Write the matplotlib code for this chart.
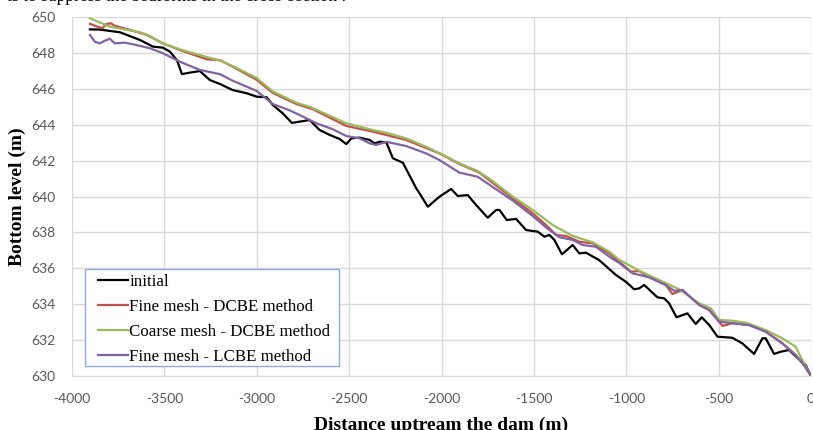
import matplotlib
matplotlib.use("Agg")
import matplotlib.pyplot as plt
from matplotlib.patches import Rectangle

# ---------------- data ----------------
x_initial = [-3903, -3849, -3741, -3632, -3562, -3508, -3470, -3432, -3405, -3362, -3308, -3254,
             -3200, -3130, -3054, -3000, -2946, -2913, -2859, -2810, -2768, -2714, -2659, -2605,
             -2551, -2515, -2488, -2443, -2389, -2362, -2335, -2299, -2263, -2209, -2137, -2119,
             -2074, -2011, -1948, -1912, -1858, -1813, -1750, -1704, -1686, -1647, -1596, -1542,
             -1479, -1443, -1416, -1389, -1348, -1290, -1254, -1218, -1146, -1056, -1002, -957,
             -930, -903, -831, -795, -768, -728, -669, -624, -591, -551, -506, -426, -372, -308,
             -263, -245, -200, -164, -119, -65, -29, 0]
y_initial = [649.31, 649.30, 649.15, 648.72, 648.35, 648.29, 648.07, 647.60, 646.82, 646.90, 646.99, 646.49,
             646.27, 645.93, 645.75, 645.56, 645.53, 645.10, 644.63, 644.10, 644.17, 644.26, 643.70, 643.43,
             643.20, 642.92, 643.24, 643.28, 643.15, 642.96, 643.05, 643.02, 642.13, 641.88, 640.46, 640.18,
             639.43, 639.99, 640.42, 640.03, 640.08, 639.53, 638.82, 639.25, 639.25, 638.69, 638.75, 638.13,
             638.04, 637.76, 637.86, 637.58, 636.78, 637.30, 636.83, 636.87, 636.45, 635.63, 635.25, 634.83,
             634.88, 635.07, 634.38, 634.33, 634.05, 633.27, 633.49, 632.90, 633.27, 632.84, 632.19, 632.13,
             631.82, 631.23, 632.10, 632.10, 631.23, 631.35, 631.45, 630.93, 630.61, 630.00]

x_fine_dcbe = [-3903, -3860, -3835, -3815, -3790, -3770, -3686, -3595, -3508, -3416, -3270, -3200,
               -3130, -3000, -2913, -2785, -2696, -2515, -2371, -2191, -2011, -1903, -1795, -1614,
               -1506, -1434, -1380, -1326, -1254, -1182, -1092, -1038, -975, -930, -876, -786,
               -750, -696, -605, -551, -479, -426, -335, -245, -155, -83, -38, 0]
y_fine_dcbe = [649.62, 649.45, 649.38, 649.60, 649.65, 649.52, 649.28, 649.00, 648.53, 648.16, 647.64, 647.60,
               647.23, 646.50, 645.77, 645.15, 644.86, 643.93, 643.61, 643.15, 642.40, 641.81, 641.33, 639.90,
               639.06, 638.41, 637.86, 637.80, 637.48, 637.39, 636.83, 636.37, 635.81, 635.85, 635.50, 635.07,
               634.57, 634.79, 633.96, 633.68, 632.79, 632.94, 632.84, 632.47, 631.82, 631.17, 630.61, 630.00]

x_coarse_dcbe = [-3903, -3795, -3632, -3578, -3508, -3416, -3308, -3200, -3130, -3000, -2913, -2785,
                 -2714, -2623, -2515, -2371, -2299, -2191, -2083, -2011, -1903, -1804, -1731, -1614,
                 -1506, -1398, -1290, -1182, -1092, -1038, -930, -822, -714, -605, -542, -497,
                 -426, -353, -245, -155, -83, -47, 0]
y_coarse_dcbe = [649.93, 649.46, 649.15, 648.94, 648.53, 648.20, 647.88, 647.57, 647.27, 646.60, 645.85, 645.22,
                 645.00, 644.58, 644.08, 643.70, 643.55, 643.24, 642.77, 642.42, 641.85, 641.42, 640.92, 639.99,
                 639.25, 638.41, 637.80, 637.45, 636.93, 636.47, 635.87, 635.35, 634.83, 634.05, 633.77, 633.12,
                 633.08, 632.97, 632.56, 632.10, 631.63, 630.89, 630.00]

x_fine_lcbe = [-3903, -3876, -3849, -3822, -3795, -3768, -3714, -3670, -3578, -3508, -3416, -3308,
               -3200, -3130, -3000, -2913, -2822, -2768, -2677, -2587, -2515, -2443, -2389, -2353,
               -2299, -2191, -2083, -2011, -1903, -1804, -1704, -1614, -1506, -1434, -1362, -1290,
               -1236, -1164, -1092, -1038, -966, -876, -786, -741, -696, -605, -551, -497,
               -426, -335, -245, -155, -83, -38, 0]
y_fine_lcbe = [649.00, 648.62, 648.53, 648.68, 648.79, 648.53, 648.57, 648.48, 648.26, 647.98, 647.51, 647.05,
               646.82, 646.45, 645.88, 645.15, 644.80, 644.54, 644.08, 643.74, 643.37, 643.24, 642.96, 642.87,
               643.05, 642.81, 642.40, 642.03, 641.33, 641.10, 640.40, 639.77, 638.91, 638.28, 637.73, 637.58,
               637.30, 637.20, 636.65, 636.30, 635.72, 635.50, 635.07, 634.75, 634.79, 633.96, 633.68, 633.03,
               632.94, 632.84, 632.47, 631.82, 631.17, 630.61, 630.00]

labels = ["initial", "Fine mesh - DCBE method", "Coarse mesh - DCBE method", "Fine mesh - LCBE method"]
colors = ["#000000", "#C0504D", "#9BBB59", "#8064A2"]

x_ticks = [-4000, -3500, -3000, -2500, -2000, -1500, -1000, -500, 0]
y_ticks = [630, 632, 634, 636, 638, 640, 642, 644, 646, 648, 650]

# ---------------- figure ----------------
W, H = 813, 430
fig = plt.figure(figsize=(W / 100, H / 100), dpi=100)
fig.patch.set_facecolor("white")

left, right, top, bottom = 72, 811, 17, 376
ax = fig.add_axes([left / W, (H - bottom) / H, (right - left) / W, (bottom - top) / H])

def ax_x(px):
    return (px - left) / (right - left)

def ax_y(py):
    return (bottom - py) / (bottom - top)

series = [(x_initial, y_initial), (x_fine_dcbe, y_fine_dcbe),
          (x_coarse_dcbe, y_coarse_dcbe), (x_fine_lcbe, y_fine_lcbe)]
for (xs, ys), lab, col in zip(series, labels, colors):
    ax.plot(xs, ys, color=col, lw=1.6, label=lab, solid_joinstyle="round")

ax.set_xlim(-4000, 0)
ax.set_ylim(630, 650)
ax.set_xticks(x_ticks)
ax.set_yticks(y_ticks)
ax.set_xticklabels([str(v) for v in x_ticks])
ax.set_yticklabels([str(v) for v in y_ticks])
ax.grid(True, color="#d9d9d9", lw=1.0)
ax.set_axisbelow(True)
for s in ax.spines.values():
    s.set_visible(False)
ax.spines["bottom"].set_visible(True)
ax.spines["bottom"].set_color("#d9d9d9")
ax.tick_params(length=0, labelsize=10, labelcolor="#595959", pad=12)
for lbl in ax.get_xticklabels() + ax.get_yticklabels():
    lbl.set_fontfamily(["Lato", "DejaVu Sans"])

ax.set_xlabel("Distance uptream the dam (m)", fontsize=14, fontweight="bold",
              fontfamily=["Liberation Serif", "DejaVu Serif"])
ax.xaxis.label.set_va("baseline")
ax.xaxis.set_label_coords(0.5, ax_y(429.5))

ax.set_ylabel("Bottom level (m)", fontsize=14, fontweight="bold",
              fontfamily=["Liberation Serif", "DejaVu Serif"])
ax.yaxis.label.set_va("center")
ax.yaxis.set_label_coords(ax_x(17.5), 0.5)

# legend box (drawn separately for exact padding) and legend content
box = Rectangle((ax_x(85), ax_y(366)), ax_x(339) - ax_x(85), ax_y(269) - ax_y(366),
                transform=ax.transAxes, facecolor="white", edgecolor="#8FAADC",
                lw=1.0, zorder=4)
ax.add_patch(box)
leg = ax.legend(loc="center left", bbox_to_anchor=(ax_x(98), ax_y(319.5)),
                prop={"family": ["Liberation Serif", "DejaVu Serif"], "size": 12.2},
                frameon=False, handlelength=1.75, handletextpad=0.1, labelspacing=0.52,
                borderpad=0, borderaxespad=0)
leg.set_zorder(5)

# clipped caption line from the page above the chart
fig.text(7 / W, 1 - 1.0 / H, "ts to suppress the bedforms in the cross-section .",
         fontsize=12.6, family=["Liberation Serif", "DejaVu Serif"], va="baseline", ha="left")

fig.savefig("out.png", dpi=100, facecolor="white")
